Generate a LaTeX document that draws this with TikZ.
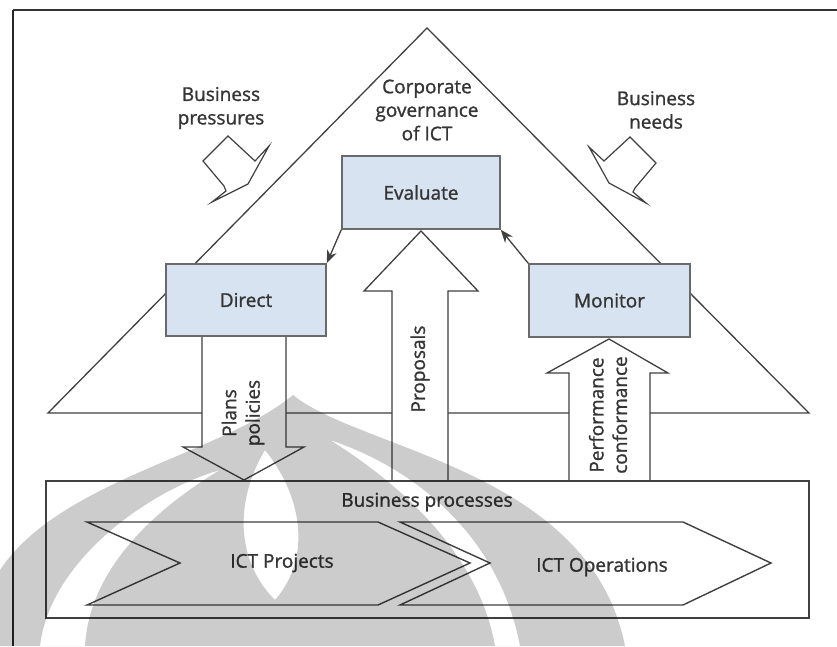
\documentclass[tikz,border=0pt]{standalone}
\usepackage{fontspec}
\newfontfamily\labfont[FakeBold=1.2]{Open Sans}
\usetikzlibrary{arrows.meta}
\definecolor{ink}{HTML}{353535}
\definecolor{linec}{HTML}{404040}
\definecolor{boxblue}{HTML}{D7E3F0}
\definecolor{boxline}{HTML}{6A6A6A}
\begin{document}
\begin{tikzpicture}[x=1pt,y=-1pt,
  lbl/.style={font=\labfont\fontsize{19}{23.5}\selectfont, text=ink, align=center, inner sep=0pt},
  govbox/.style={draw=boxline, line width=1.5pt, fill=boxblue, inner sep=0pt},
  outline/.style={draw=linec, line width=1.3pt, line join=miter},
  blockarrow/.style={outline, fill=white},
  link/.style={draw=linec, line width=1.3pt, -{Stealth[length=13pt,width=10pt]}},
  wmark/.style={fill=black, fill opacity=0.2, even odd rule}
]
\useasboundingbox (0,0) rectangle (837,646);
\fill[white] (0,0) rectangle (837,646);

% page frame
\draw[line width=2pt, draw=black!80] (13,10) -- (837,10);
\draw[line width=1.5pt, draw=black!85] (13,10) -- (13,646);

% governance triangle
\draw[outline] (48,413) -- (427,28) -- (809,413) -- cycle;

% external influences
\node[lbl] (pressures) at (221,108) {Business\\pressures};
\node[lbl] (needs) at (656,110) {Business\\needs};
\draw[outline, line width=1.2pt] (228,136) -- (203,161) -- (224,186) -- (226,191) -- (212,202)
  -- (248,184) -- (269,146) -- (255,161) -- cycle;
\draw[outline, line width=1.2pt] (630,137) -- (656,163) -- (635,188) -- (633,192) -- (646,203)
  -- (609,183) -- (589,147) -- (604,161) -- cycle;

\node[lbl] (cg) at (427,110) {Corporate\\governance\\of ICT};

% block arrows between governance and business processes
\draw[blockarrow] (202,336) -- (202,447) -- (183,447) -- (244,480) -- (304,447) -- (286,447) -- (286,336);
\draw[blockarrow] (392,480) -- (392,291) -- (364,291) -- (421,231) -- (478,291) -- (448,291) -- (448,480);
\draw[blockarrow] (569,480) -- (569,373) -- (547,373) -- (609,339) -- (668,373) -- (650,373) -- (650,480);

\node[lbl, rotate=90] (plans) at (243,413) {Plans\\policies};
\node[lbl, rotate=90] (proposals) at (420,369) {Proposals};
\node[lbl, rotate=90] (perf) at (608,415) {Performance\\conformance};

% governance tasks
\node[govbox, lbl, minimum width=158pt, minimum height=73pt] (evaluate) at (421,192.5) {Evaluate};
\node[govbox, lbl, minimum width=160pt, minimum height=72pt] (direct) at (246,300) {Direct};
\node[govbox, lbl, minimum width=161pt, minimum height=73pt] (monitor) at (609.5,300.5) {Monitor};

\draw[link] (evaluate.south west) -- (direct.north east);
\draw[link] (monitor.north west) -- (evaluate.south east);

% business processes
\node[draw=linec, line width=1.3pt, minimum width=763pt, minimum height=137pt, inner sep=0pt] (bp) at (427.5,549.5) {};
\node[lbl] (bplabel) at (427,502) {Business processes};

\draw[outline, line width=1.4pt] (87,522) -- (378,522) -- (470,563) -- (378,605) -- (87,605) -- (180,563) -- cycle;
\draw[outline, line width=1.4pt] (400,522) -- (683,522) -- (771,563) -- (683,605) -- (400,605) -- (490,563) -- cycle;
\node[lbl] (projects) at (282,563) {ICT Projects};
\node[lbl] (operations) at (602,567) {ICT Operations};

% university watermark
\path[wmark]
  (0,646) -- (0,570) .. controls (60,480) and (220,455) .. (293,395)
  .. controls (360,450) and (590,470) .. (625,646) -- cycle
  (40,646) .. controls (50,560) and (150,490) .. (220,470)
  .. controls (170,500) and (90,560) .. (85,646) -- cycle
  (265,450) .. controls (235,500) and (235,560) .. (275,600)
  .. controls (310,560) and (305,500) .. (265,450) -- cycle
  (330,440) .. controls (420,470) and (500,540) .. (520,646)
  -- (495,646) .. controls (480,560) and (410,490) .. (330,440) -- cycle;
\end{tikzpicture}
\end{document}
